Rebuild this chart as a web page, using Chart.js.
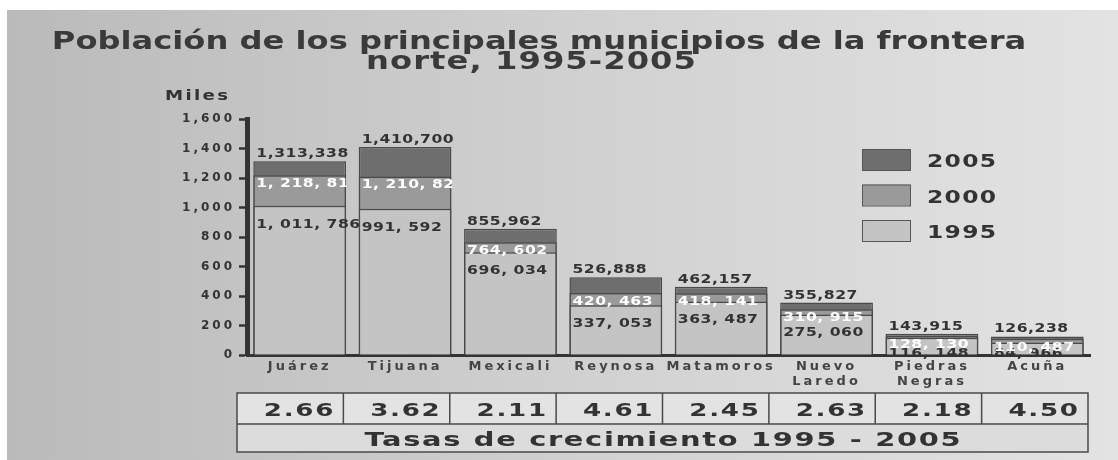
<!DOCTYPE html>
<html lang="es">
<head>
  <meta charset="UTF-8">
  <title>Población de los principales municipios de la frontera norte, 1995-2005</title>
  <script src="https://cdn.jsdelivr.net/npm/chart.js"></script>
  <style>
    html, body { margin: 0; padding: 0; background: #fff; }
  </style>
</head>
<body>
  <canvas id="grafica" width="1118" height="460"></canvas>

  <script>
    // datos (habitantes)
    const municipios = ['Juárez', 'Tijuana', 'Mexicali', 'Reynosa', 'Matamoros', ['Nuevo', 'Laredo'], ['Piedras', 'Negras'], 'Acuña'];
    const pob1995 = [1011786, 991592, 696034, 337053, 363487, 275060, 116148, 84966];
    const pob2000 = [1218817, 1210820, 764602, 420463, 418141, 310915, 128130, 110487];
    const pob2005 = [1313338, 1410700, 855962, 526888, 462157, 355827, 143915, 126238];
    const tasas = [2.66, 3.62, 2.11, 4.61, 2.45, 2.63, 2.18, 4.50];
    const ticksY = [0, 200, 400, 600, 800, 1000, 1200, 1400, 1600];

    const FUENTE = "'DejaVu Sans', Verdana, sans-serif";
    const colores = { 1995: '#c4c4c4', 2000: '#9a9a9a', 2005: '#6e6e6e' };

    const miles = arr => arr.map(v => v / 1000);
    const fmt2005 = v => v.toLocaleString('en-US');
    const fmtOtros = v => v.toLocaleString('en-US').replace(/,/g, ', ');

    // texto ensanchado como en la lámina original
    function texto(ctx, str, x, y, size, color, ancho, spacing, align) {
      ctx.save();
      ctx.font = 'bold ' + size + 'px ' + FUENTE;
      ctx.letterSpacing = spacing + 'px';
      ctx.fillStyle = color;
      ctx.textAlign = align || 'left';
      ctx.textBaseline = 'alphabetic';
      ctx.translate(x, y);
      ctx.scale(ancho, 1);
      let dx = 0;
      if (align === 'center') dx = spacing / 2;
      if (align === 'right') dx = spacing;
      ctx.fillText(str, dx, 0);
      ctx.restore();
    }

    const fondo = {
      id: 'fondo',
      beforeDraw(chart) {
        const ctx = chart.ctx, w = chart.width, h = chart.height;
        ctx.save();
        ctx.fillStyle = '#fff';
        ctx.fillRect(0, 0, w, h);
        const g = ctx.createLinearGradient(7, 0, w, 0);
        g.addColorStop(0, '#bababa');
        g.addColorStop(0.5, '#d0d0d0');
        g.addColorStop(1, '#e3e3e3');
        ctx.fillStyle = g;
        ctx.fillRect(7, 10, w - 7, h - 10);
        ctx.restore();
        // espaciado para las etiquetas de los ejes
        ctx.letterSpacing = '3px';
      }
    };

    const etiquetas = {
      id: 'etiquetas',
      afterDatasetsDraw(chart) {
        const ctx = chart.ctx;
        chart.data.datasets.forEach((ds, i) => {
          const meta = chart.getDatasetMeta(i);
          meta.data.forEach((bar, j) => {
            const left = bar.x - bar.width / 2;
            if (ds.anio === 2005) {
              texto(ctx, fmt2005(ds.pob[j]), left + 3, bar.y - 4, 12, '#333', 1.3, 0.4);
            } else if (ds.anio === 2000) {
              ctx.save();
              ctx.beginPath();
              ctx.rect(left, 0, bar.width + 1, chart.height);
              ctx.clip();
              texto(ctx, fmtOtros(ds.pob[j]), left + 3, bar.y + 12, 12, '#fff', 1.3, 0.4);
              ctx.restore();
            } else {
              texto(ctx, fmtOtros(ds.pob[j]), left + 3, Math.min(bar.y + 22, bar.base + 2), 12, '#333', 1.3, 0.4);
            }
          });
        });
      },
      afterDraw(chart) {
        const ctx = chart.ctx;
        const area = chart.chartArea;

        // titulo
        texto(ctx, 'Población de los principales municipios de la frontera', 539, 49, 24, '#3a3a3a', 1.34, 0, 'center');
        texto(ctx, 'norte, 1995-2005', 531, 69, 24, '#3a3a3a', 1.34, 0.8, 'center');
        texto(ctx, 'Miles', 165, 100, 14, '#333', 1.3, 1.8);

        // leyenda
        [2005, 2000, 1995].forEach((a, k) => {
          const y = 149 + k * 35.5;
          ctx.save();
          ctx.fillStyle = colores[a];
          ctx.strokeStyle = '#555';
          ctx.lineWidth = 1;
          ctx.fillRect(862, y, 48, 21);
          ctx.strokeRect(862.5, y + 0.5, 48, 21);
          ctx.restore();
          texto(ctx, String(a), 927, y + 18, 18, '#333', 1.3, 1);
        });

        // tabla de tasas
        const x0 = area.left - 10, x1 = area.right - 2;
        const yA = 393, yB = 424, yC = 452;
        const cw = (x1 - x0) / tasas.length;
        ctx.save();
        ctx.letterSpacing = '0px';
        ctx.fillStyle = '#e3e3e3';
        ctx.fillRect(x0, yA, x1 - x0, yB - yA);
        ctx.fillStyle = '#dcdcdc';
        ctx.fillRect(x0, yB, x1 - x0, yC - yB);
        ctx.strokeStyle = '#4a4a4a';
        ctx.lineWidth = 1.5;
        ctx.strokeRect(x0, yA, x1 - x0, yC - yA);
        ctx.beginPath();
        ctx.moveTo(x0, yB);
        ctx.lineTo(x1, yB);
        for (let i = 1; i < tasas.length; i++) {
          ctx.moveTo(x0 + i * cw, yA);
          ctx.lineTo(x0 + i * cw, yB);
        }
        ctx.stroke();
        ctx.restore();
        tasas.forEach((t, i) => {
          texto(ctx, t.toFixed(2), x0 + (i + 1) * cw - 10, yA + 23, 18, '#333', 1.45, 1.2, 'right');
        });
        texto(ctx, 'Tasas de crecimiento 1995 - 2005', (x0 + x1) / 2, yB + 22, 19, '#333', 1.52, 1.1, 'center');
      }
    };

    const serie = (anio, pob) => ({
      label: String(anio),
      anio: anio,
      pob: pob,
      data: miles(pob),
      backgroundColor: colores[anio],
      borderColor: '#4a4a4a',
      borderWidth: 1.5,
      grouped: false,
      barPercentage: 0.88,
      categoryPercentage: 1.0
    });

    new Chart(document.getElementById('grafica'), {
      type: 'bar',
      data: {
        labels: municipios,
        // el primero se dibuja encima
        datasets: [serie(1995, pob1995), serie(2000, pob2000), serie(2005, pob2005)]
      },
      options: {
        responsive: false,
        animation: false,
        devicePixelRatio: 1,
        locale: 'en-US',
        layout: { padding: { left: 100, right: 28, top: 119, bottom: 0 } },
        plugins: {
          legend: { display: false },
          tooltip: { enabled: false }
        },
        scales: {
          x: {
            grid: { display: false },
            border: { display: true, color: '#333', width: 3 },
            ticks: {
              color: '#444',
              font: { family: FUENTE, size: 13, weight: 'bold', lineHeight: 1.15 },
              padding: -4,
              maxRotation: 0,
              autoSkip: false
            },
            afterFit(s) { s.height = 105; }
          },
          y: {
            min: ticksY[0],
            max: ticksY[ticksY.length - 1],
            afterBuildTicks(s) { s.ticks = ticksY.map(v => ({ value: v })); },
            ticks: {
              color: '#333',
              font: { family: FUENTE, size: 12, weight: 'bold' },
              padding: 4
            },
            grid: { drawOnChartArea: false, drawTicks: true, tickLength: 8, tickWidth: 2.5, color: '#333' },
            border: { display: true, color: '#333', width: 5 },
            afterFit(s) { s.width = 147; }
          }
        }
      },
      plugins: [fondo, etiquetas]
    });
  </script>
</body>
</html>
